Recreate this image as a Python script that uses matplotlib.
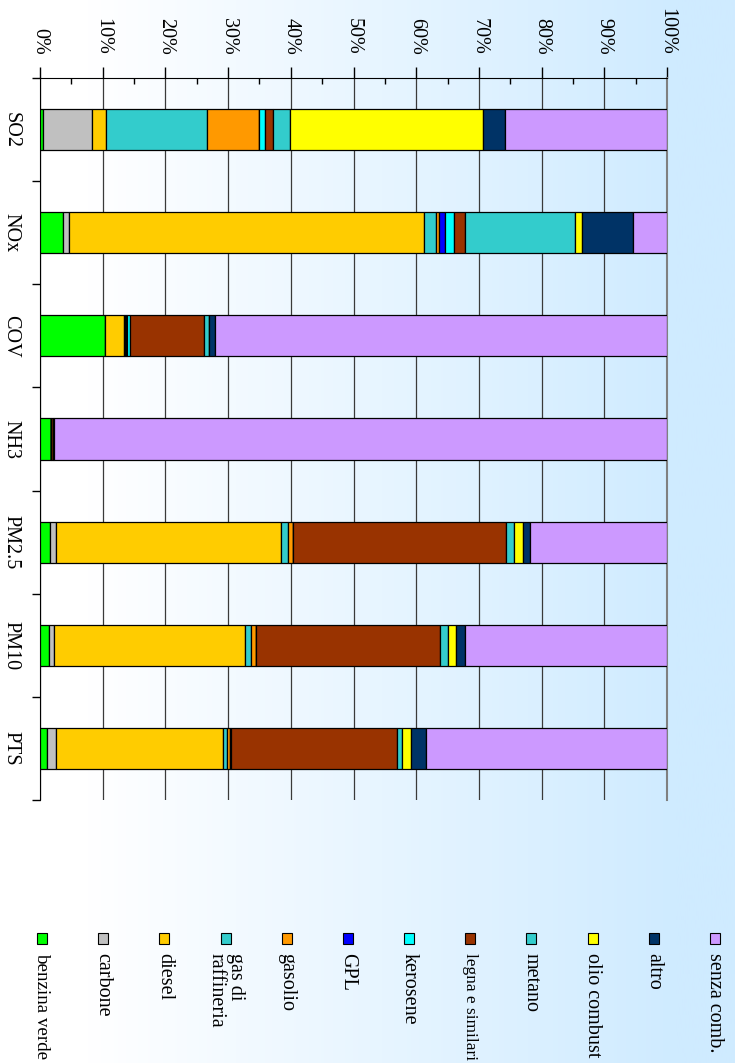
import matplotlib
matplotlib.use('Agg')
import matplotlib.pyplot as plt
import numpy as np
from matplotlib.patches import Rectangle
from matplotlib.ticker import FixedLocator, NullFormatter, FixedFormatter

# ---------------- data ----------------
categories = ['SO2', 'NOx', 'COV', 'NH3', 'PM2.5', 'PM10', 'PTS']
series_names = ['benzina verde', 'carbone', 'diesel', 'gas di\nraffineria', 'gasolio',
                'GPL', 'kerosene', 'legna e similari', 'metano', 'olio combust',
                'altro', 'senza comb.']
benzina_verde = [0.5, 3.7, 10.3, 1.7, 1.6, 1.4, 1.1]
carbone = [7.8, 0.9, 0.0, 0.0, 1.0, 0.9, 1.5]
diesel = [2.3, 56.6, 3.1, 0.0, 35.8, 30.4, 26.6]
gas_raffineria = [16.1, 2.0, 0.2, 0.0, 1.2, 0.9, 0.6]
gasolio = [8.3, 0.5, 0.1, 0.0, 0.8, 0.8, 0.5]
gpl = [0.0, 0.9, 0.1, 0.0, 0.0, 0.0, 0.0]
kerosene = [0.9, 1.5, 0.5, 0.0, 0.0, 0.0, 0.2]
legna = [1.2, 1.7, 11.8, 0.3, 34.0, 29.4, 26.5]
metano = [2.8, 17.5, 0.9, 0.0, 1.2, 1.2, 0.7]
olio_combust = [30.7, 1.1, 0.0, 0.0, 1.4, 1.4, 1.5]
altro = [3.5, 8.2, 0.9, 0.3, 1.2, 1.4, 2.3]
senza_comb = [25.9, 5.4, 72.1, 97.7, 21.8, 32.2, 38.5]
tick_labels = ['0%', '10%', '20%', '30%', '40%', '50%', '60%', '70%', '80%', '90%', '100%']

series_values = [benzina_verde, carbone, diesel, gas_raffineria, gasolio, gpl,
                 kerosene, legna, metano, olio_combust, altro, senza_comb]
colors = ['#00FF00', '#C0C0C0', '#FFCC00', '#33CCCC', '#FF9900', '#0000FF',
          '#00FFFF', '#993300', '#33CCCC', '#FFFF00', '#003366', '#CC99FF']

plt.rcParams['font.family'] = ['Liberation Serif', 'DejaVu Serif']

W, H = 735, 1063
fig = plt.figure(figsize=(W / 100, H / 100), dpi=100)

# background gradient
bg = fig.add_axes([0, 0, 1, 1], zorder=-10)
grad = np.linspace(0, 1, 256)
c0 = np.array([1.0, 1.0, 1.0])
c1 = np.array([0xCF, 0xEB, 0xFF]) / 255.0
t = np.clip((grad - 0.12) / 0.80, 0, 1)
img = c0[None, :] * (1 - t[:, None]) + c1[None, :] * t[:, None]
bg.imshow(img[None, :, :], aspect='auto', extent=[0, 1, 0, 1])
bg.set_axis_off()

def fx(px):
    return px / W

def fy(py):
    return 1 - py / H

ax = fig.add_axes([fx(40), fy(800), fx(667) - fx(40), fy(78) - fy(800)])
ax.set_facecolor('none')

y = np.arange(len(categories))
left = np.zeros(len(categories))
for vals, col in zip(series_values, colors):
    vals = np.array(vals)
    ax.barh(y, vals, left=left, height=0.4, color=col, edgecolor='black',
            linewidth=0.9, zorder=3)
    left += vals

ax.set_xlim(0, 100)
ax.set_ylim(len(categories) - 0.5, -0.5)

# x axis on top
ax.xaxis.tick_top()
ax.xaxis.set_major_locator(FixedLocator(np.arange(0, 101, 10)))
ax.xaxis.set_major_formatter(FixedFormatter(tick_labels))
ax.xaxis.set_minor_locator(FixedLocator(np.arange(5, 100, 10)))
ax.tick_params(axis='x', which='major', direction='out', length=8, width=1,
               pad=9, labelsize=14.5, labelrotation=-90, top=True, bottom=False)
ax.tick_params(axis='x', which='minor', direction='in', length=4, width=1,
               top=True, bottom=False)
for lab in ax.get_xticklabels():
    lab.set_va('bottom')
ax.grid(axis='x', which='major', color='#3a3a3a', linewidth=0.9, zorder=1)

# y axis: ticks at boundaries, labels at centers
ax.yaxis.set_major_locator(FixedLocator(np.arange(-0.5, len(categories) + 0.5, 1)))
ax.yaxis.set_major_formatter(NullFormatter())
ax.yaxis.set_minor_locator(FixedLocator(y))
ax.yaxis.set_minor_formatter(FixedFormatter(categories))
ax.tick_params(axis='y', which='major', direction='out', length=6, width=1)
ax.tick_params(axis='y', which='minor', length=0, pad=14, labelsize=14.5,
               labelrotation=-90)
for lab in ax.get_yticklabels(minor=True):
    lab.set_va('center')

ax.spines['bottom'].set_visible(False)
ax.spines['right'].set_color('#808080')
ax.spines['right'].set_linewidth(1.5)
ax.spines['left'].set_color('black')
ax.spines['top'].set_color('black')

# legend (rotated), entries from left to right
x_first, x_last = 42, 715
xs = np.linspace(x_first, x_last, len(series_names))
renderer = fig.canvas.get_renderer()
max_len = 106  # pixels available below the markers
for name, col, xp in zip(series_names, colors, xs):
    fig.patches.append(Rectangle((fx(xp - 5), fy(944)), 10 / W, 11 / H,
                                 transform=fig.transFigure, facecolor=col,
                                 edgecolor='black', linewidth=0.8))
    txt = fig.text(fx(xp), fy(953), name, rotation=-90, ha='center', va='top',
                   fontsize=14.5, linespacing=1.0, multialignment='left')
    ext = txt.get_window_extent(renderer)
    if ext.height > max_len:
        txt.set_fontsize(14.5 * max_len / ext.height)

fig.savefig('out.png', dpi=100)
